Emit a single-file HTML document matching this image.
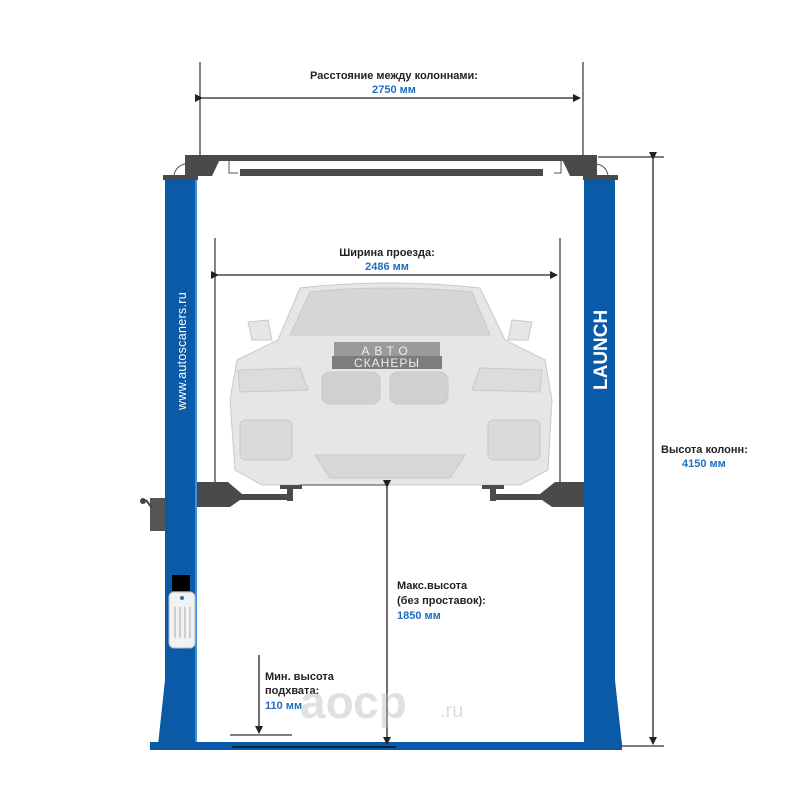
<!DOCTYPE html>
<html><head><meta charset="utf-8"><style>
html,body{margin:0;padding:0;background:#fff;}
svg{display:block;font-family:"Liberation Sans","DejaVu Sans",sans-serif;}
.b{font-weight:bold;fill:#222;font-size:11px;}
.c{font-weight:bold;fill:#1d6fc0;font-size:11px;}
</style></head><body>
<svg width="800" height="800" viewBox="0 0 800 800" xmlns="http://www.w3.org/2000/svg">
<defs>
<marker id="a" markerWidth="8" markerHeight="8" refX="7" refY="4" orient="auto" markerUnits="userSpaceOnUse"><path d="M0,0 L8,4 L0,8 Z" fill="#222"/></marker>
</defs>
<!-- top dimension -->
<line x1="200" y1="62" x2="200" y2="156" stroke="#333" stroke-width="1.2"/>
<line x1="583" y1="62" x2="583" y2="156" stroke="#333" stroke-width="1.2"/>
<line x1="202" y1="98" x2="580" y2="98" stroke="#222" stroke-width="1.3" marker-start="url(#a)" marker-end="url(#a)"/>
<text x="394" y="79" text-anchor="middle" class="b">Расстояние между колоннами:</text>
<text x="394" y="93" text-anchor="middle" class="c">2750 мм</text>
<!-- beam -->
<rect x="185" y="155" width="412" height="6" fill="#4a4a4a"/>
<path d="M185,155 L222,155 L212,176 L185,176 Z" fill="#4a4a4a"/>
<path d="M597,155 L560,155 L570,176 L597,176 Z" fill="#4a4a4a"/>
<rect x="163" y="175" width="35" height="5" fill="#4a4a4a"/>
<rect x="583" y="175" width="35" height="5" fill="#4a4a4a"/>
<path d="M174,175 Q176,166 185,164" fill="none" stroke="#555" stroke-width="1"/>
<path d="M608,175 Q606,166 597,164" fill="none" stroke="#555" stroke-width="1"/>
<path d="M229,161 L229,173 L238,173 M554,173 L561,173 L561,161" fill="none" stroke="#555" stroke-width="1"/>
<rect x="240" y="169" width="303" height="7" fill="#4a4a4a"/>
<!-- columns -->
<rect x="165" y="180" width="32" height="500" fill="#0b5aa8"/>
<path d="M165,680 L197,680 L197,745 L158,745 Z" fill="#0b5aa8"/>
<rect x="584" y="180" width="31" height="500" fill="#0b5aa8"/>
<path d="M584,680 L615,680 L622,745 L584,745 Z" fill="#0b5aa8"/>
<rect x="150" y="742" width="472" height="8" fill="#0b5aa8"/>
<rect x="195" y="180" width="2" height="562" fill="#3d8fe0"/>
<line x1="232" y1="747" x2="396" y2="747" stroke="#111" stroke-width="1.5"/>
<text transform="translate(186,410) rotate(-90)" font-size="12.5" fill="#fff" letter-spacing="0.3">www.autoscaners.ru</text>
<text transform="translate(607,390) rotate(-90)" font-size="19" font-weight="bold" fill="#fff">LAUNCH</text>
<!-- control box -->
<rect x="150" y="498" width="15" height="33" fill="#555"/>
<line x1="146" y1="500" x2="152" y2="508" stroke="#444" stroke-width="2"/>
<circle cx="143" cy="501" r="3" fill="#444"/>
<rect x="172" y="575" width="18" height="16" fill="#000"/>
<rect x="169" y="592" width="26" height="56" rx="5" fill="#f2f2f2" stroke="#bbb"/>
<circle cx="182" cy="598" r="2" fill="#1d6fc0"/>
<g stroke="#aaa" stroke-width="1"><line x1="175" y1="607" x2="175" y2="638"/><line x1="180" y1="607" x2="180" y2="638"/><line x1="185" y1="607" x2="185" y2="638"/><line x1="190" y1="607" x2="190" y2="638"/></g>
<!-- car -->
<g fill="#e6e6e6" stroke="#c8c8c8" stroke-width="1">
<path d="M300,288 Q390,278 480,288 L505,340 L545,360 L552,400 L548,470 L520,485 L262,485 L235,470 L230,400 L237,360 L278,340 Z"/>
<path d="M310,292 Q390,284 472,292 L490,335 L290,335 Z" fill="#d6d6d6"/>
<path d="M248,322 L268,320 L272,340 L252,340 Z"/>
<path d="M532,322 L512,320 L508,340 L528,340 Z"/>
<path d="M238,370 L300,368 L308,390 L240,392 Z" fill="#dcdcdc"/>
<path d="M542,370 L480,368 L472,390 L540,392 Z" fill="#dcdcdc"/>
<rect x="322" y="372" width="58" height="32" rx="8" fill="#d0d0d0"/>
<rect x="390" y="372" width="58" height="32" rx="8" fill="#d0d0d0"/>
<rect x="240" y="420" width="52" height="40" rx="6" fill="#dadada"/>
<rect x="488" y="420" width="52" height="40" rx="6" fill="#dadada"/>
<path d="M315,455 L465,455 L450,478 L330,478 Z" fill="#d8d8d8"/>
</g>
<rect x="334" y="342" width="106" height="14" fill="#9a9a9a"/>
<rect x="332" y="356" width="110" height="13" fill="#7d7d7d"/>
<text x="387" y="355" text-anchor="middle" font-size="12" fill="#eee" letter-spacing="5">АВТО</text>
<text x="387" y="367" text-anchor="middle" font-size="12" fill="#eee" letter-spacing="1">СКАНЕРЫ</text>
<!-- arms -->
<g fill="#4a4a4a">
<path d="M197,482 L228,482 L242,494 L290,494 L290,500 L240,500 L230,507 L197,507 Z"/>
<rect x="280" y="485" width="22" height="4"/><rect x="287" y="489" width="6" height="12"/>
<path d="M584,482 L555,482 L540,494 L492,494 L492,500 L542,500 L552,507 L584,507 Z"/>
<rect x="482" y="485" width="22" height="4"/><rect x="490" y="489" width="6" height="12"/>
</g>
<line x1="300" y1="485" x2="387" y2="485" stroke="#444" stroke-width="1"/>
<!-- width dimension -->
<line x1="215" y1="238" x2="215" y2="482" stroke="#333" stroke-width="1.2"/>
<line x1="560" y1="238" x2="560" y2="482" stroke="#333" stroke-width="1.2"/>
<line x1="218" y1="275" x2="557" y2="275" stroke="#222" stroke-width="1.3" marker-start="url(#a)" marker-end="url(#a)"/>
<text x="387" y="256" text-anchor="middle" class="b">Ширина проезда:</text>
<text x="387" y="270" text-anchor="middle" class="c">2486 мм</text>
<!-- column height -->
<line x1="598" y1="157" x2="664" y2="157" stroke="#333" stroke-width="1.2"/>
<line x1="622" y1="746" x2="664" y2="746" stroke="#333" stroke-width="1.2"/>
<line x1="653" y1="159" x2="653" y2="744" stroke="#222" stroke-width="1.3" marker-start="url(#a)" marker-end="url(#a)"/>
<text x="661" y="453" class="b">Высота колонн:</text>
<text x="682" y="467" class="c">4150 мм</text>
<!-- max height -->
<line x1="387" y1="487" x2="387" y2="744" stroke="#222" stroke-width="1.3" marker-start="url(#a)" marker-end="url(#a)"/>
<text x="397" y="589" class="b">Макс.высота</text>
<text x="397" y="604" class="b">(без проставок):</text>
<text x="397" y="619" class="c">1850 мм</text>
<!-- min height -->
<line x1="259" y1="655" x2="259" y2="733" stroke="#222" stroke-width="1.3" marker-end="url(#a)"/>
<line x1="230" y1="735" x2="292" y2="735" stroke="#333" stroke-width="1.2"/>
<text x="265" y="680" class="b">Мин. высота</text>
<text x="265" y="694" class="b">подхвата:</text>
<text x="265" y="709" class="c">110 мм</text>
<!-- watermark -->
<text x="300" y="718" font-size="46" font-weight="bold" fill="#bbb" fill-opacity="0.45">аоср</text>
<text x="440" y="717" font-size="20" fill="#bbb" fill-opacity="0.5">.ru</text>
</svg>
</body></html>
